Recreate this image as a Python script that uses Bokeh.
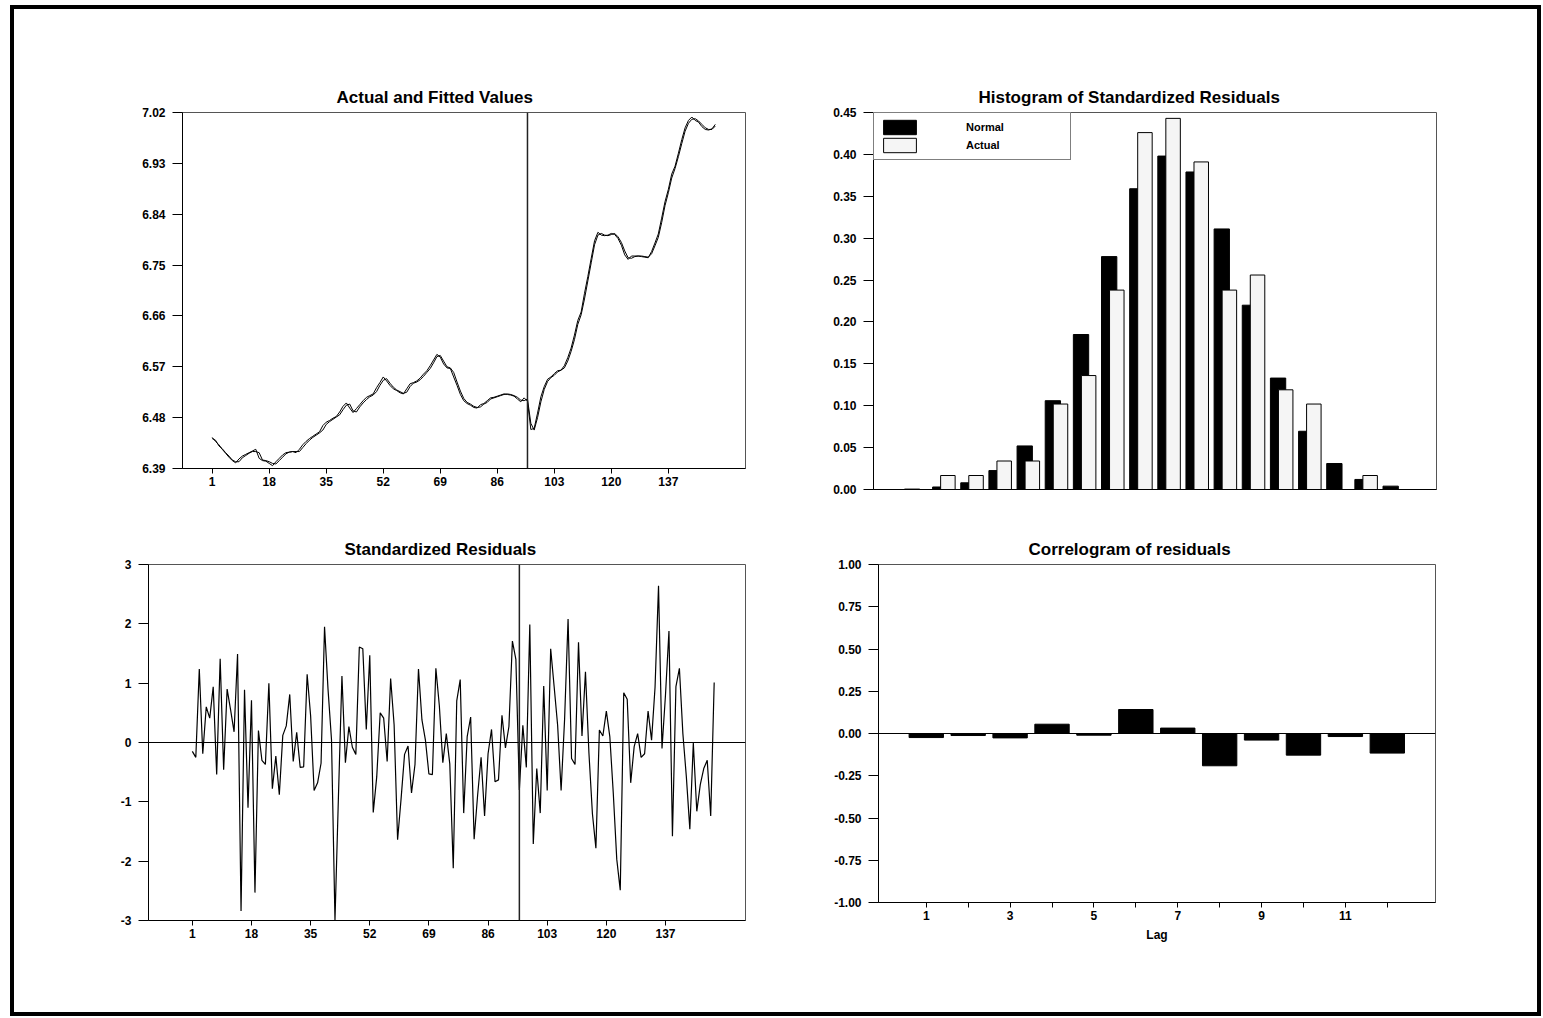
import numpy as np
from bokeh.plotting import figure
from bokeh.layouts import row, column
from bokeh.models import (FixedTicker, Span, Legend, LegendItem,
                          NumeralTickFormatter, Range1d)
from bokeh.embed import file_html
from bokeh.resources import INLINE

FONT = "'Liberation Sans', Arial, sans-serif"

# ---------------------------------------------------------------- data
obs = list(range(1, 152))
split_obs = 95  # end of estimation sample

actual = [
    6.445, 6.438, 6.432, 6.424, 6.417, 6.410, 6.404, 6.400, 6.407, 6.412,
    6.415, 6.418, 6.421, 6.424, 6.408, 6.404, 6.403, 6.399, 6.395, 6.402,
    6.408, 6.414, 6.418, 6.419, 6.420, 6.418, 6.424, 6.432, 6.438, 6.443,
    6.447, 6.451, 6.455, 6.466, 6.472, 6.475, 6.479, 6.482, 6.490, 6.500,
    6.506, 6.497, 6.489, 6.496, 6.503, 6.510, 6.516, 6.519, 6.522, 6.533,
    6.542, 6.552, 6.545, 6.537, 6.531, 6.528, 6.524, 6.522, 6.531, 6.540,
    6.542, 6.545, 6.550, 6.557, 6.563, 6.572, 6.582, 6.592, 6.587, 6.575,
    6.568, 6.567, 6.552, 6.537, 6.521, 6.510, 6.505, 6.502, 6.498, 6.497,
    6.503, 6.505, 6.510, 6.515, 6.516, 6.518, 6.520, 6.522, 6.521, 6.520,
    6.518, 6.513, 6.508, 6.515, 6.509, 6.459, 6.461, 6.488, 6.517, 6.535,
    6.548, 6.552, 6.558, 6.563, 6.564, 6.572, 6.586, 6.603, 6.626, 6.652,
    6.667, 6.700, 6.730, 6.762, 6.793, 6.808, 6.803, 6.802, 6.803, 6.806,
    6.804, 6.797, 6.785, 6.768, 6.760, 6.766, 6.766, 6.766, 6.765, 6.764,
    6.763, 6.774, 6.789, 6.805, 6.833, 6.862, 6.884, 6.911, 6.925, 6.948,
    6.972, 6.993, 7.006, 7.012, 7.006, 7.003, 6.995, 6.990, 6.989, 6.991,
    6.999,
]

fitted = [
    6.443, 6.440, 6.430, 6.425, 6.418, 6.412, 6.405, 6.402, 6.402, 6.409,
    6.413, 6.417, 6.420, 6.420, 6.418, 6.405, 6.404, 6.402, 6.399, 6.398,
    6.404, 6.410, 6.416, 6.419, 6.420, 6.420, 6.420, 6.427, 6.434, 6.440,
    6.445, 6.449, 6.453, 6.458, 6.468, 6.473, 6.477, 6.481, 6.485, 6.494,
    6.502, 6.504, 6.492, 6.490, 6.499, 6.506, 6.512, 6.517, 6.520, 6.526,
    6.537, 6.546, 6.549, 6.541, 6.534, 6.529, 6.526, 6.523, 6.525, 6.535,
    6.541, 6.543, 6.547, 6.553, 6.560, 6.567, 6.577, 6.588, 6.590, 6.580,
    6.570, 6.568, 6.560, 6.543, 6.527, 6.514, 6.507, 6.504, 6.500, 6.498,
    6.499, 6.504, 6.507, 6.513, 6.515, 6.517, 6.519, 6.521, 6.522, 6.521,
    6.519, 6.516, 6.511, 6.510, 6.513, 6.470, 6.458, 6.480, 6.508, 6.530,
    6.544, 6.551, 6.555, 6.561, 6.564, 6.568, 6.580, 6.597, 6.618, 6.645,
    6.662, 6.690, 6.722, 6.754, 6.786, 6.803, 6.806, 6.803, 6.802, 6.804,
    6.806, 6.800, 6.790, 6.775, 6.763, 6.762, 6.765, 6.766, 6.766, 6.765,
    6.764, 6.770, 6.784, 6.799, 6.825, 6.855, 6.878, 6.904, 6.921, 6.942,
    6.965, 6.987, 7.001, 7.008, 7.009, 7.005, 6.999, 6.993, 6.990, 6.990,
    6.996,
]

std_resid = [
    -0.15, -0.25, 1.24, -0.19, 0.60, 0.41, 0.94, -0.54, 1.41, -0.46,
    0.90, 0.55, 0.18, 1.49, -2.84, 0.89, -1.10, 0.71, -2.53, 0.20,
    -0.30, -0.37, 1.00, -0.78, -0.23, -0.88, 0.12, 0.28, 0.81, -0.32,
    0.17, -0.42, -0.41, 1.15, 0.45, -0.81, -0.68, -0.35, 1.95, 0.90,
    0.05, -3.00, -0.90, 1.12, -0.34, 0.27, -0.08, -0.20, 1.61, 1.58,
    0.22, 1.47, -1.18, -0.58, 0.50, 0.41, -0.32, 1.08, 0.30, -1.64,
    -0.95, -0.20, -0.06, -0.85, -0.37, 1.24, 0.38, 0.04, -0.53, -0.54,
    1.25, 0.62, -0.34, 0.15, -0.36, -2.12, 0.70, 1.06, -1.19, 0.10,
    0.43, -1.63, -0.89, -0.25, -1.24, -0.19, 0.22, -0.66, -0.63, 0.46,
    -0.09, 0.27, 1.71, 1.40, -0.80, 0.29, -0.42, 1.99, -1.71, -0.44,
    -1.19, 0.95, -0.81, 1.58, 0.94, 0.29, -0.81, 0.39, 2.08, -0.27,
    -0.37, 1.69, 0.11, 1.19, -0.18, -1.20, -1.78, 0.21, 0.11, 0.53,
    0.10, -0.86, -1.97, -2.49, 0.84, 0.73, -0.68, -0.07, 0.15, -0.25,
    -0.19, 0.53, 0.04, 0.93, 2.64, -0.10, 0.80, 1.88, -1.58, 0.94,
    1.25, 0.15, -0.58, -1.46, -0.01, -1.16, -0.71, -0.44, -0.30, -1.24,
    1.01,
]

hist_bins = list(range(18))
hist_normal = [0.0005, 0.003, 0.008, 0.0226, 0.052, 0.106, 0.185, 0.278, 0.359,
               0.398, 0.379, 0.311, 0.220, 0.133, 0.0695, 0.031, 0.012, 0.004]
hist_actual = [0.0, 0.0167, 0.0167, 0.034, 0.034, 0.102, 0.136, 0.238, 0.426,
               0.443, 0.391, 0.238, 0.256, 0.119, 0.102, 0.0, 0.0167, 0.0]

lags = list(range(1, 13))
acf = [-0.024, -0.012, -0.026, 0.055, -0.010, 0.142, 0.032, -0.191,
       -0.039, -0.128, -0.018, -0.116]

obs_ticks = [1, 18, 35, 52, 69, 86, 103, 120, 137]
level_ticks = [6.39, 6.48, 6.57, 6.66, 6.75, 6.84, 6.93, 7.02]
resid_ticks = [-3, -2, -1, 0, 1, 2, 3]
density_ticks = [0.00, 0.05, 0.10, 0.15, 0.20, 0.25, 0.30, 0.35, 0.40, 0.45]
acf_ticks = [-1.0, -0.75, -0.5, -0.25, 0.0, 0.25, 0.5, 0.75, 1.0]
lag_labels = {lag: (str(lag) if lag % 2 == 1 else "") for lag in lags}


# ---------------------------------------------------------------- helpers
def make_fig(title, title_indent, width, height, borders, x_range, y_range):
    left, right, top, bottom = borders
    p = figure(width=width, height=height, x_range=x_range, y_range=y_range,
               output_backend="svg", toolbar_location=None,
               min_border_left=left, min_border_right=right,
               min_border_top=top, min_border_bottom=bottom,
               title=title)
    # title starts a fixed number of pixels in from the frame's left edge
    p.title.align = "left"
    p.title.offset = title_indent
    p.title.standoff = 12
    p.title.text_font = FONT
    p.title.text_font_size = "17px"
    p.title.text_font_style = "bold"
    p.title.text_color = "black"
    p.grid.visible = False
    p.outline_line_color = "#555555"
    p.outline_line_width = 1
    p.background_fill_color = "white"
    p.border_fill_color = "white"
    for ax in p.axis:
        ax.axis_line_color = "black"
        ax.axis_line_width = 1
        ax.major_tick_line_color = "black"
        ax.minor_tick_line_color = None
        ax.major_tick_in = 0
        ax.major_label_text_font = FONT
        ax.major_label_text_font_size = "12px"
        ax.major_label_text_font_style = "bold"
        ax.major_label_text_color = "black"
    p.xaxis.major_tick_out = 5
    p.xaxis.major_label_standoff = 3
    p.yaxis.major_tick_out = 10
    p.yaxis.major_label_standoff = 7
    return p


# ---------------------------------------------------------------- actual / fitted
p1 = make_fig("Actual and Fitted Values", 154, 766, 516, (168, 35, 103, 57),
              Range1d(-7.85, 160), Range1d(6.39, 7.02))
p1.line(obs, actual, line_color="black", line_width=1)
p1.line(obs, fitted, line_color="black", line_width=1)
p1.add_layout(Span(location=split_obs, dimension="height",
                   line_color="#222222", line_width=1.5))
p1.xaxis.ticker = FixedTicker(ticks=obs_ticks)
p1.yaxis.ticker = FixedTicker(ticks=level_ticks)
p1.yaxis.formatter = NumeralTickFormatter(format="0.00")

# ---------------------------------------------------------------- standardized residuals
p3 = make_fig("Standardized Residuals", 196, 766, 487, (134, 35, 39, 92),
              Range1d(-11.6, 160), Range1d(-3, 3))
p3.add_layout(Span(location=0, dimension="width", line_color="black", line_width=1))
p3.add_layout(Span(location=split_obs, dimension="height",
                   line_color="#222222", line_width=1.5))
p3.line(obs, std_resid, line_color="black", line_width=1.2)
p3.xaxis.ticker = FixedTicker(ticks=obs_ticks)
p3.yaxis.ticker = FixedTicker(ticks=resid_ticks)
p3.yaxis.formatter = NumeralTickFormatter(format="0")

# ---------------------------------------------------------------- histogram
p2 = make_fig("Histogram of Standardized Residuals", 105, 757, 516, (93, 101, 103, 36),
              Range1d(-1.5, 18.5), Range1d(0, 0.45))
bins = np.array(hist_bins, dtype=float)
r_norm = p2.vbar(x=bins - 0.128, width=0.544, top=hist_normal, bottom=0,
                 fill_color="black", line_color="black", line_width=1)
r_act = p2.vbar(x=bins + 0.1425, width=0.515, top=hist_actual, bottom=0,
                fill_color="#f5f5f5", line_color="black", line_width=1)
p2.xaxis.ticker = FixedTicker(ticks=[])
p2.xaxis.major_tick_out = 0
p2.yaxis.ticker = FixedTicker(ticks=density_ticks)
p2.yaxis.formatter = NumeralTickFormatter(format="0.00")

legend = Legend(items=[LegendItem(label="Normal", renderers=[r_norm]),
                       LegendItem(label="Actual", renderers=[r_act])],
                location="top_left", margin=0, padding=5, spacing=0,
                glyph_width=41, glyph_height=18, label_standoff=46,
                label_width=99, label_height=18,
                border_line_color="black", border_line_width=1,
                background_fill_color="white", background_fill_alpha=1,
                label_text_font=FONT, label_text_font_size="11px",
                label_text_font_style="bold", label_text_color="black")
p2.add_layout(legend)

# ---------------------------------------------------------------- correlogram
p4 = make_fig("Correlogram of residuals", 150, 757, 487, (98, 102, 39, 110),
              Range1d(-0.14, 13.15), Range1d(-1, 1))
p4.add_layout(Span(location=0, dimension="width", line_color="black", line_width=1))
p4.vbar(x=lags, width=0.82, top=acf, bottom=0,
        fill_color="black", line_color="black", line_width=1)
p4.xaxis.ticker = FixedTicker(ticks=lags)
p4.xaxis.major_label_overrides = lag_labels
p4.xaxis.axis_label = "Lag"
p4.xaxis.axis_label_text_font = FONT
p4.xaxis.axis_label_text_font_size = "12px"
p4.xaxis.axis_label_text_font_style = "bold"
p4.xaxis.axis_label_text_color = "black"
p4.xaxis.axis_label_standoff = 5
p4.yaxis.ticker = FixedTicker(ticks=acf_ticks)
p4.yaxis.formatter = NumeralTickFormatter(format="0.00")

# ---------------------------------------------------------------- page
# each figure sits in its own row so that the frames keep their own borders
left_col = column(row(p1), row(p3))
right_col = column(row(p2), row(p4))
root = row(left_col, right_col,
           margin=(5, 0, 0, 10),
           styles={"border": "4px solid black"})

with open("out.html", "w") as f:
    f.write(file_html(root, INLINE, title="Regression diagnostics"))
